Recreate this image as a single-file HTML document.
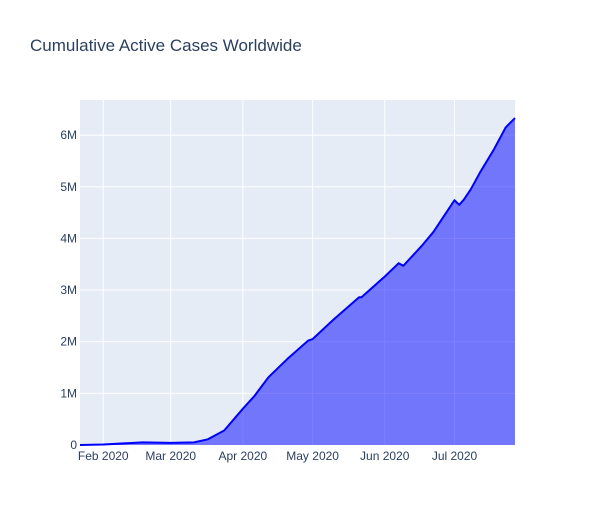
<!DOCTYPE html>
<html><head><meta charset="utf-8"><style>
body{margin:0;background:#fff;}
svg text{font-family:"Liberation Sans",sans-serif;fill:#2a3f5f;}
</style></head><body>
<svg id="chart" width="594" height="525" xmlns="http://www.w3.org/2000/svg">
<rect x="0" y="0" width="594" height="525" fill="#fff"/>
<text x="30" y="51" font-size="17">Cumulative Active Cases Worldwide</text>
<rect x="80" y="100" width="435" height="345" fill="#e5ecf6"/>
<g id="grid"></g><g id="series"></g><g id="axes"></g>
</svg>
<script>
const dates=["2020-01-22","2020-02-01","2020-02-18","2020-03-01","2020-03-11","2020-03-17","2020-03-24","2020-04-01","2020-04-06","2020-04-12","2020-04-20","2020-04-29","2020-05-01","2020-05-10","2020-05-21","2020-05-22","2020-06-01","2020-06-07","2020-06-09","2020-06-17","2020-06-22","2020-07-01","2020-07-03","2020-07-05","2020-07-08","2020-07-12","2020-07-18","2020-07-23","2020-07-27"];
const activeCases=[0.0005,0.01,0.05,0.04,0.05,0.11,0.28,0.70,0.95,1.31,1.66,2.02,2.05,2.43,2.86,2.86,3.26,3.52,3.47,3.86,4.13,4.74,4.65,4.75,4.95,5.28,5.73,6.15,6.33];
const yTicks=[0,1,2,3,4,5,6];
const yTickLabels=["0","1M","2M","3M","4M","5M","6M"];
const xTicks=["2020-02-01","2020-03-01","2020-04-01","2020-05-01","2020-06-01","2020-07-01"];
const xTickLabels=["Feb 2020","Mar 2020","Apr 2020","May 2020","Jun 2020","Jul 2020"];

const L=80,R=515,T=100,B=445;
const t=d=>Date.parse(d+"T00:00:00Z");
const x0=t(dates[0]),x1=t(dates[dates.length-1]);
const X=d=>L+(t(d)-x0)/(x1-x0)*(R-L);
const yMax=6.68;
const Y=v=>B-v/yMax*(B-T);
const NS="http://www.w3.org/2000/svg";
function mk(tag,attrs,parent){const e=document.createElementNS(NS,tag);for(const k in attrs)e.setAttribute(k,attrs[k]);document.getElementById(parent).appendChild(e);return e;}

yTicks.forEach((v,i)=>{
  if(v>0){const g=mk("line",{x1:L,x2:R,y1:Y(v),y2:Y(v),stroke:"#fff","stroke-width":1},"grid");
  
  }
  const tx=mk("text",{x:L-3,y:Y(v)+4,"font-size":12,"text-anchor":"end"},"axes");
  tx.textContent=yTickLabels[i];
  
  
});
xTicks.forEach((d,i)=>{
  const g=mk("line",{x1:X(d),x2:X(d),y1:T,y2:B,stroke:"#fff","stroke-width":1},"grid");
  
  
  const tx=mk("text",{x:X(d),y:B+15,"font-size":12,"text-anchor":"middle"},"axes");
  tx.textContent=xTickLabels[i];
  
  
});
const pts=dates.map((d,i)=>X(d).toFixed(1)+","+Y(activeCases[i]).toFixed(1));
const area=mk("path",{d:"M"+X(dates[0])+","+Y(0)+" L"+pts.join(" L")+" L"+X(dates[dates.length-1])+","+Y(0)+"Z",fill:"rgba(0,0,255,0.5)"},"series");


const line=mk("path",{d:"M"+pts.join(" L"),fill:"none",stroke:"#0000ff","stroke-width":2,"stroke-linejoin":"round"},"series");


</script>
</body></html>
